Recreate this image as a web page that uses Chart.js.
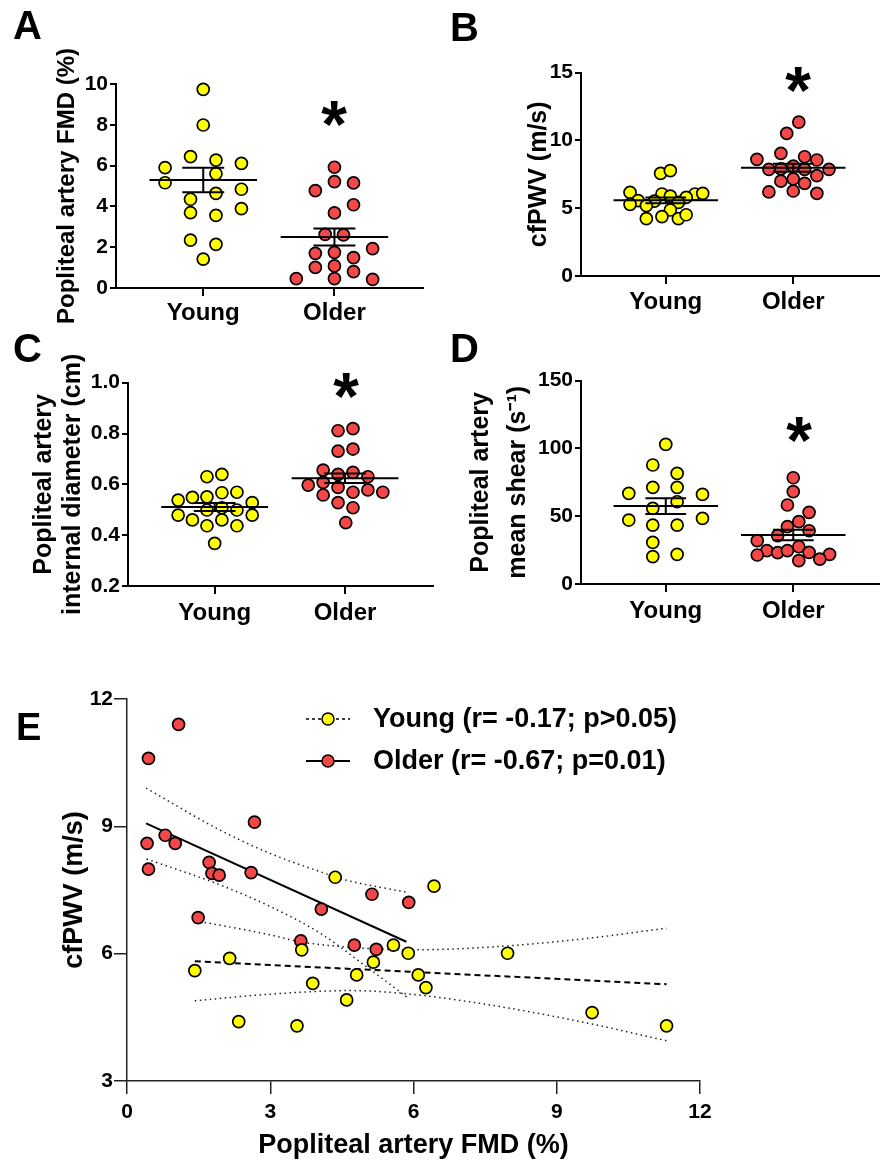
<!DOCTYPE html>
<html><head><meta charset="utf-8">
<script src="https://cdn.jsdelivr.net/npm/chart.js@4.4.1/dist/chart.umd.min.js"></script>
<style>
html,body{margin:0;padding:0;background:#fff}
#fig{position:relative;width:887px;height:1164px;overflow:hidden;font-family:"Liberation Sans",Arial,sans-serif;font-weight:bold;color:#000;background:#fff}
canvas{position:absolute}
.t{position:absolute;white-space:nowrap;line-height:1}
</style></head><body>
<div id="fig">
<canvas id="cA" width="443" height="335" style="left:0;top:0"></canvas>
<canvas id="cB" width="444" height="335" style="left:443px;top:0"></canvas>
<canvas id="cC" width="443" height="310" style="left:0;top:335px"></canvas>
<canvas id="cD" width="444" height="310" style="left:443px;top:335px"></canvas>
<canvas id="cE" width="720" height="484" style="left:0;top:680px"></canvas>

<div class="t" style="left:13px;top:5px;font-size:40px">A</div>
<div class="t" style="left:450px;top:7px;font-size:40px">B</div>
<div class="t" style="left:13px;top:328px;font-size:40px">C</div>
<div class="t" style="left:450px;top:328px;font-size:40px">D</div>
<div class="t" style="left:16px;top:708px;font-size:38px">E</div>

<div class="t" style="left:304px;top:91px;width:60px;text-align:center;font-size:66px">*</div>
<div class="t" style="left:768px;top:57px;width:60px;text-align:center;font-size:66px">*</div>
<div class="t" style="left:316px;top:363px;width:60px;text-align:center;font-size:66px">*</div>
<div class="t" style="left:769px;top:407px;width:60px;text-align:center;font-size:66px">*</div>

<svg style="position:absolute;left:306px;top:711px" width="44" height="16">
  <line x1="0" y1="8" x2="44" y2="8" stroke="#000" stroke-width="1.5" stroke-dasharray="3 3"/>
  <circle cx="22" cy="8" r="6" fill="#FFFF00" stroke="#000" stroke-width="1.5"/>
</svg>
<div class="t" style="left:373px;top:705px;font-size:27px">Young (r= -0.17; p&gt;0.05)</div>
<svg style="position:absolute;left:306px;top:753px" width="44" height="16">
  <line x1="0" y1="8" x2="44" y2="8" stroke="#000" stroke-width="2"/>
  <circle cx="22" cy="8" r="6" fill="#F44848" stroke="#000" stroke-width="1.5"/>
</svg>
<div class="t" style="left:373px;top:747px;font-size:27px">Older (r= -0.67; p=0.01)</div>
</div>

<script>
const groups = ['Young', 'Older'];

// ---- Panel A: Popliteal artery FMD (%)
const fmdYoung = [9.74, 7.99, 6.44, 6.27, 6.11, 5.90, 5.60, 5.16, 4.84, 4.64, 4.35, 3.69, 3.56, 3.89, 2.35, 2.14, 1.42];
const fmdOlder = [5.92, 5.21, 5.15, 4.77, 4.08, 3.68, 2.63, 2.60, 1.93, 1.70, 1.75, 1.49, 1.01, 1.08, 0.80, 0.46, 0.46, 0.42];
const fmdMean = [5.29, 2.50];
const fmdSem = [0.60, 0.42];
const fmdTicks = [0, 2, 4, 6, 8, 10];

// ---- Panel B: cfPWV (m/s)
const pwvYoung = [7.57, 7.77, 6.17, 6.05, 5.90, 6.05, 6.10, 5.80, 5.56, 5.53, 5.19, 5.43, 5.29, 4.87, 4.23, 4.38, 4.23, 4.52];
const pwvOlder = [11.36, 10.52, 9.05, 8.61, 8.80, 8.56, 7.87, 7.90, 8.11, 7.87, 7.87, 7.00, 7.16, 6.84, 7.40, 6.20, 6.27, 6.10];
const pwvMean = [5.58, 7.99];
const pwvSem = [0.22, 0.30];
const pwvTicks = [0, 5, 10, 15];

// ---- Panel C: internal diameter (cm)
const diamYoung = [0.630, 0.639, 0.538, 0.549, 0.551, 0.567, 0.569, 0.528, 0.499, 0.508, 0.499, 0.479, 0.460, 0.460, 0.479, 0.437, 0.437, 0.368];
const diamOlder = [0.811, 0.819, 0.731, 0.739, 0.656, 0.639, 0.647, 0.630, 0.597, 0.608, 0.588, 0.569, 0.578, 0.569, 0.558, 0.528, 0.508, 0.449];
const diamMean = [0.511, 0.624];
const diamSem = [0.016, 0.019];
const diamTicks = [0.2, 0.4, 0.6, 0.8, 1.0];

// ---- Panel D: mean shear (s^-1)
const shearYoung = [103.0, 87.8, 81.6, 66.9, 71.3, 71.3, 66.1, 60.7, 55.8, 47.2, 48.4, 43.5, 43.5, 30.7, 20.2, 21.9];
const shearOlder = [78.4, 68.1, 58.3, 52.9, 46.0, 42.3, 39.3, 32.0, 35.7, 24.6, 23.1, 24.6, 27.5, 21.4, 23.4, 21.9, 18.4, 17.2];
const shearMean = [57.5, 36.1];
const shearSem = [5.8, 3.9];
const shearTicks = [0, 50, 100, 150];

// horizontal scatter lanes of the column plots (layout only)
const laneAy = [0, 0, -1, 1, 3, -3, 1, -3, 3, 1, -1, -1, 1, 3, -1, 1, 0];
const laneAo = [0, 0, 1.5, -1.5, 1.5, 0, -0.73, 0.71, 3, -1.5, 0, 1.5, -1.5, 0, 1.5, -3, 0, 3];
const laneBy = [-0.42, 0.37, -2.89, -0.31, 0.37, 2.36, 2.99, 1.65, -2.23, -0.92, -1.57, 1.02, -2.89, 0.37, -1.57, -0.31, 1.02, 1.65];
const laneBo = [0.45, -0.53, -1, -2.94, 0.92, 1.91, -1.97, -1, 0, 0.92, 2.89, -1, 0, 0.92, 1.91, -1.97, 0, 1.91];
const laneCy = [-0.61, 0.57, -2.89, -1.76, -0.61, 0.57, 1.76, 2.97, -0.61, 0.57, 1.76, -2.89, -1.76, 0.57, 2.97, -0.61, 1.76, 0];
const laneCo = [-0.55, 0.63, -0.55, 0.63, -1.73, -0.55, 0.63, 1.81, -2.91, -1.73, -0.55, 0.63, 1.81, 2.99, -1.73, -0.55, 0.63, 0.06];
const laneDy = [0, -1.05, 0.92, -2.99, -1.05, 0.92, 2.97, 0.92, -1.05, -2.99, 2.97, -1.05, 0.92, -1.05, -1.05, 0.92];
const laneDo = [0, 0, -0.47, 1.28, 0.45, -0.47, 1.28, -2.91, -1.26, -2.13, -1.26, -0.47, 0.45, -2.91, 1.28, 2.94, 2.15, 0.45];

// ---- Panel E: FMD vs cfPWV
const eYoungFmd = [4.36, 6.43, 5.89, 7.97, 6.10, 6.26, 9.74, 11.30, 1.42, 2.15, 2.34, 3.56, 3.66, 3.89, 4.60, 4.81, 5.16, 5.58];
const eYoungPwv = [7.80, 7.59, 6.01, 6.01, 5.50, 5.20, 4.61, 4.30, 5.60, 5.89, 4.40, 4.30, 6.09, 5.30, 4.91, 5.50, 5.80, 6.20];
const eOlderFmd = [0.45, 1.08, 0.42, 0.80, 1.01, 0.45, 2.67, 1.72, 1.78, 1.93, 2.60, 4.07, 5.13, 5.90, 1.49, 3.64, 4.76, 5.22];
const eOlderPwv = [10.60, 11.40, 8.60, 8.79, 8.60, 7.99, 9.10, 8.15, 7.89, 7.85, 7.91, 7.05, 7.40, 7.21, 6.85, 6.30, 6.20, 6.10];
const youngFitX = [1.42, 11.30];
const youngFitY = [5.82, 5.28];
const youngCiX = [1.42, 2.93, 3.63, 4.67, 5.93, 7.39, 9.49, 11.30];
const youngCiHi = [6.78, 6.46, 6.28, 6.15, 6.09, 6.14, 6.34, 6.60];
const youngCiLoX = [1.42, 2.93, 4.67, 5.72, 7.39, 9.49, 11.30];
const youngCiLo = [4.89, 5.04, 5.13, 5.07, 4.83, 4.40, 3.95];
const olderFitX = [0.40, 5.85];
const olderFitY = [9.07, 6.28];
const olderCiHiX = [0.40, 1.95, 3.00, 4.05, 4.53, 5.84];
const olderCiHi = [9.90, 8.91, 8.36, 7.93, 7.75, 7.45];
const olderCiLoX = [0.41, 1.95, 3.00, 4.05, 5.02, 5.86];
const olderCiLo = [8.23, 7.62, 7.11, 6.48, 5.69, 4.98];
const eXTicks = [0, 3, 6, 9, 12];
const eYTicks = [3, 6, 9, 12];

const FONT = '"Liberation Sans", Arial, sans-serif';
const YELLOW = '#FFFF00';
const RED = '#F44848';
const LANE = 0.097;

const meanSemPlugin = {
  id: 'meanSem',
  afterDatasetsDraw(chart, args, opts) {
    if (!opts || !opts.means) return;
    const ctx = chart.ctx, x = chart.scales.x, y = chart.scales.y;
    ctx.save();
    ctx.strokeStyle = '#000';
    ctx.lineWidth = 2;
    opts.means.forEach((m, i) => {
      const s = opts.sems[i];
      const ym = y.getPixelForValue(m), yh = y.getPixelForValue(m + s), yl = y.getPixelForValue(m - s);
      ctx.beginPath();
      ctx.moveTo(x.getPixelForValue(i - 0.41), ym); ctx.lineTo(x.getPixelForValue(i + 0.41), ym);
      ctx.moveTo(x.getPixelForValue(i), yh); ctx.lineTo(x.getPixelForValue(i), yl);
      ctx.moveTo(x.getPixelForValue(i - 0.16), yh); ctx.lineTo(x.getPixelForValue(i + 0.16), yh);
      ctx.moveTo(x.getPixelForValue(i - 0.16), yl); ctx.lineTo(x.getPixelForValue(i + 0.16), yl);
      ctx.stroke();
    });
    ctx.restore();
  }
};

function pts(xs, ys) { return xs.map((v, i) => ({ x: v, y: ys[i] })); }

function columnChart(id, c) {
  const el = document.getElementById(id);
  const W = el.width, H = el.height;
  const mk = (vals, lanes, gi) => vals.map((v, i) => ({ x: gi + lanes[i] * LANE, y: v }));
  const pointStyle = { borderColor: '#000', borderWidth: 1.7, pointRadius: 6, clip: false };
  return new Chart(el, {
    type: 'scatter',
    data: { datasets: [
      Object.assign({ data: mk(c.young, c.youngLane, 0), backgroundColor: YELLOW }, pointStyle),
      Object.assign({ data: mk(c.older, c.olderLane, 1), backgroundColor: RED }, pointStyle)
    ] },
    plugins: [meanSemPlugin],
    options: {
      responsive: false, animation: false, events: [], devicePixelRatio: 1,
      layout: { padding: { left: 0, top: c.top, right: W - c.right, bottom: 0 } },
      plugins: { legend: { display: false }, tooltip: { enabled: false }, meanSem: { means: c.mean, sems: c.sem } },
      scales: {
        x: {
          type: 'linear', min: -0.665, max: 1.675,
          afterBuildTicks: s => { s.ticks = [{ value: 0 }, { value: 1 }]; },
          afterFit: s => { s.height = H - c.bottom; },
          ticks: { callback: v => groups[v], font: { family: FONT, size: 24, weight: 'bold' }, color: '#000', padding: c.xPad, maxRotation: 0, autoSkip: false },
          grid: { drawOnChartArea: false, color: '#000', lineWidth: 2, tickLength: 8 },
          border: { color: '#000', width: 2 }
        },
        y: {
          type: 'linear', min: c.ticks[0], max: c.ticks[c.ticks.length - 1],
          afterBuildTicks: s => { s.ticks = c.ticks.map(v => ({ value: v })); },
          afterFit: s => { s.width = c.left; },
          ticks: { callback: v => c.fmt(v), font: { family: FONT, size: 21, weight: 'bold' }, color: '#000', padding: 2 },
          grid: { drawOnChartArea: false, color: '#000', lineWidth: 2, tickLength: 6 },
          border: { color: '#000', width: 2 },
          title: { display: true, text: c.title, color: '#000',
            font: { family: FONT, size: c.titleSize, weight: 'bold', lineHeight: c.titleLH },
            padding: { top: c.titlePad, bottom: 0 } }
        }
      }
    }
  });
}

columnChart('cA', { young: fmdYoung, older: fmdOlder, youngLane: laneAy, olderLane: laneAo,
  mean: fmdMean, sem: fmdSem, ticks: fmdTicks, fmt: v => String(v),
  left: 116, right: 423, top: 84, bottom: 288, xPad: 3,
  title: 'Popliteal artery FMD (%)', titleSize: 24, titleLH: 1.2, titlePad: 53 });

columnChart('cB', { young: pwvYoung, older: pwvOlder, youngLane: laneBy, olderLane: laneBo,
  mean: pwvMean, sem: pwvSem, ticks: pwvTicks, fmt: v => String(v),
  left: 138, right: 443, top: 72.7, bottom: 276, xPad: 4,
  title: 'cfPWV (m/s)', titleSize: 25, titleLH: 1.2, titlePad: 81 });

columnChart('cC', { young: diamYoung, older: diamOlder, youngLane: laneCy, olderLane: laneCo,
  mean: diamMean, sem: diamSem, ticks: diamTicks, fmt: v => v.toFixed(1),
  left: 128, right: 433, top: 47.7, bottom: 251, xPad: 4.5,
  title: ['Popliteal artery', 'internal diameter (cm)'], titleSize: 25, titleLH: 1.16, titlePad: 29.5 });

columnChart('cD', { young: shearYoung, older: shearOlder, youngLane: laneDy, olderLane: laneDo,
  mean: shearMean, sem: shearSem, ticks: shearTicks, fmt: v => String(v),
  left: 138, right: 443, top: 45.7, bottom: 249, xPad: 5,
  title: ['Popliteal artery', 'mean shear (s\u207B\u00B9)'], titleSize: 25, titleLH: 1.48, titlePad: 20 });

// ---- Panel E
(function () {
  const el = document.getElementById('cE');
  const W = el.width, H = el.height;
  const top = 19, bottom = 401, right = 700, left = 127;
  const dotted = { type: 'line', borderColor: '#222', borderWidth: 1.5, borderDash: [1.5, 3.5], pointRadius: 0, fill: false, cubicInterpolationMode: 'monotone', order: 2 };
  new Chart(el, {
    type: 'scatter',
    data: { datasets: [
      { data: pts(eYoungFmd, eYoungPwv), backgroundColor: YELLOW, borderColor: '#000', borderWidth: 1.7, pointRadius: 6, clip: false, order: 0 },
      { data: pts(eOlderFmd, eOlderPwv), backgroundColor: RED, borderColor: '#000', borderWidth: 1.7, pointRadius: 6, clip: false, order: 1 },
      { type: 'line', data: pts(olderFitX, olderFitY), borderColor: '#000', borderWidth: 2, pointRadius: 0, fill: false, order: 2 },
      { type: 'line', data: pts(youngFitX, youngFitY), borderColor: '#000', borderWidth: 2, borderDash: [6, 4], pointRadius: 0, fill: false, order: 2 },
      Object.assign({ data: pts(olderCiHiX, olderCiHi) }, dotted),
      Object.assign({ data: pts(olderCiLoX, olderCiLo) }, dotted),
      Object.assign({ data: pts(youngCiX, youngCiHi) }, dotted),
      Object.assign({ data: pts(youngCiLoX, youngCiLo) }, dotted)
    ] },
    options: {
      responsive: false, animation: false, events: [], devicePixelRatio: 1,
      layout: { padding: { left: 0, top: top, right: W - right, bottom: 0 } },
      plugins: { legend: { display: false }, tooltip: { enabled: false } },
      scales: {
        x: {
          type: 'linear', min: 0, max: 12,
          afterBuildTicks: s => { s.ticks = eXTicks.map(v => ({ value: v })); },
          afterFit: s => { s.height = H - bottom; },
          ticks: { font: { family: FONT, size: 21, weight: 'bold' }, color: '#000', padding: 6, maxRotation: 0 },
          grid: { drawOnChartArea: false, color: '#222', lineWidth: 1.5, tickLength: 13 },
          border: { color: '#222', width: 1.5 },
          title: { display: true, text: 'Popliteal artery FMD (%)', color: '#000',
            font: { family: FONT, size: 27, weight: 'bold', lineHeight: 1.2 }, padding: { top: 0, bottom: 2 } }
        },
        y: {
          type: 'linear', min: 3, max: 12,
          afterBuildTicks: s => { s.ticks = eYTicks.map(v => ({ value: v })); },
          afterFit: s => { s.width = left; },
          ticks: { font: { family: FONT, size: 21, weight: 'bold' }, color: '#000', padding: 1 },
          grid: { drawOnChartArea: false, color: '#222', lineWidth: 1.5, tickLength: 13 },
          border: { color: '#222', width: 1.5 },
          title: { display: true, text: 'cfPWV (m/s)', color: '#000',
            font: { family: FONT, size: 27, weight: 'bold', lineHeight: 1.2 }, padding: { top: 58, bottom: 0 } }
        }
      }
    }
  });
})();
</script>
</body></html>
